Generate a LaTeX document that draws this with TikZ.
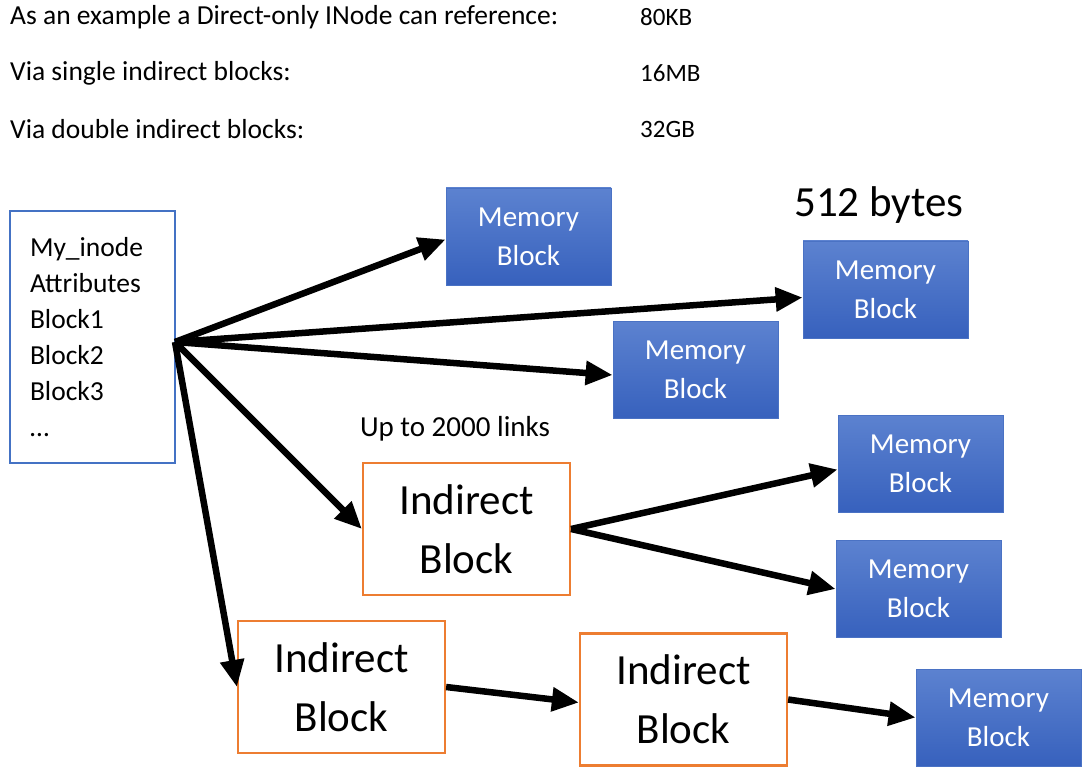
\documentclass[tikz,border=0pt]{standalone}
\usepackage{fontspec}
\setmainfont{Carlito}
\usetikzlibrary{arrows.meta}
\definecolor{memtop}{HTML}{5C82D0}
\definecolor{membot}{HTML}{3761BD}
\definecolor{memline}{HTML}{4A72C4}
\definecolor{inodeline}{HTML}{4472C4}
\definecolor{indline}{HTML}{ED7D31}
\begin{document}
\begin{tikzpicture}[x=1pt, y=-1pt,
    memblock/.style={rectangle, draw=memline, line width=0.8pt, top color=memtop, bottom color=membot,
      minimum width=165pt, minimum height=97pt, text=white, align=center,
      font=\fontsize{29}{39}\selectfont},
    indblock/.style={rectangle, draw=indline, line width=2.2pt, fill=white,
      minimum width=207pt, minimum height=132pt, align=center,
      font=\fontsize{43}{59}\selectfont},
    link/.style={line width=6.5pt, -{Triangle[length=27pt, width=23pt]}},
    info/.style={anchor=west, inner sep=0pt, font=\fontsize{27.5}{32}\selectfont},
    size/.style={anchor=west, inner sep=0pt, font=\fontsize{25}{30}\selectfont}
    ]
    \useasboundingbox (0,0) rectangle (1089,775);
    \node[info] (line1) at (10,17) {As an example a Direct-only INode can reference:};
    \node[info] (line2) at (10,73) {Via single indirect blocks:};
    \node[info] (line3) at (10,129) {Via double indirect blocks:};
    \node[size] (size1) at (640,17) {80KB};
    \node[size] (size2) at (640,73) {16MB};
    \node[size] (size3) at (640,129) {32GB};

    \node[rectangle, draw=inodeline, line width=1.6pt, minimum width=165pt, minimum height=252pt,
      text width=125pt, inner xsep=20pt, align=left, font=\fontsize{27.5}{36}\selectfont] (inode) at (92.5,337)
      {My\_inode\\Attributes\\Block1\\Block2\\Block3\\…};
    \coordinate (hub) at (175,342);

    \node[memblock] (mem1) at (528.5,236.5) {Memory\\Block};
    \node[memblock] (mem2) at (885.5,289.5) {Memory\\Block};
    \node[font=\fontsize{43}{50}\selectfont] (bytes) at (879,205) {512 bytes};
    \node[memblock] (mem3) at (695.5,370) {Memory\\Block};
    \node[font=\fontsize{29}{34}\selectfont] (links) at (455,429) {Up to 2000 links};
    \node[indblock] (ind1) at (466.5,529) {Indirect\\Block};
    \node[memblock] (mem4) at (920.5,463.5) {Memory\\Block};
    \node[memblock] (mem5) at (918.5,589) {Memory\\Block};
    \node[indblock] (ind2) at (341.5,687) {Indirect\\Block};
    \node[indblock] (ind3) at (683.5,699.5) {Indirect\\Block};
    \node[memblock] (mem6) at (998.5,717.5) {Memory\\Block};

    \draw[link] (hub) -- ([yshift=-3pt]mem1.west);
    \draw[link] (hub) -- ([yshift=-8pt]mem2.west);
    \draw[link] (hub) -- ([yshift=-5pt]mem3.west);
    \draw[link] (hub) -- (ind1.west);
    \draw[link] (hub) -- (ind2.west);
    \draw[link] (ind1.east) -- ([yshift=-6pt]mem4.west);
    \draw[link] (ind1.east) -- (mem5.west);
    \draw[link] (ind2.east) -- ([yshift=-3pt]ind3.west);
    \draw[link] (ind3.east) -- (mem6.west);
\end{tikzpicture}
\end{document}
